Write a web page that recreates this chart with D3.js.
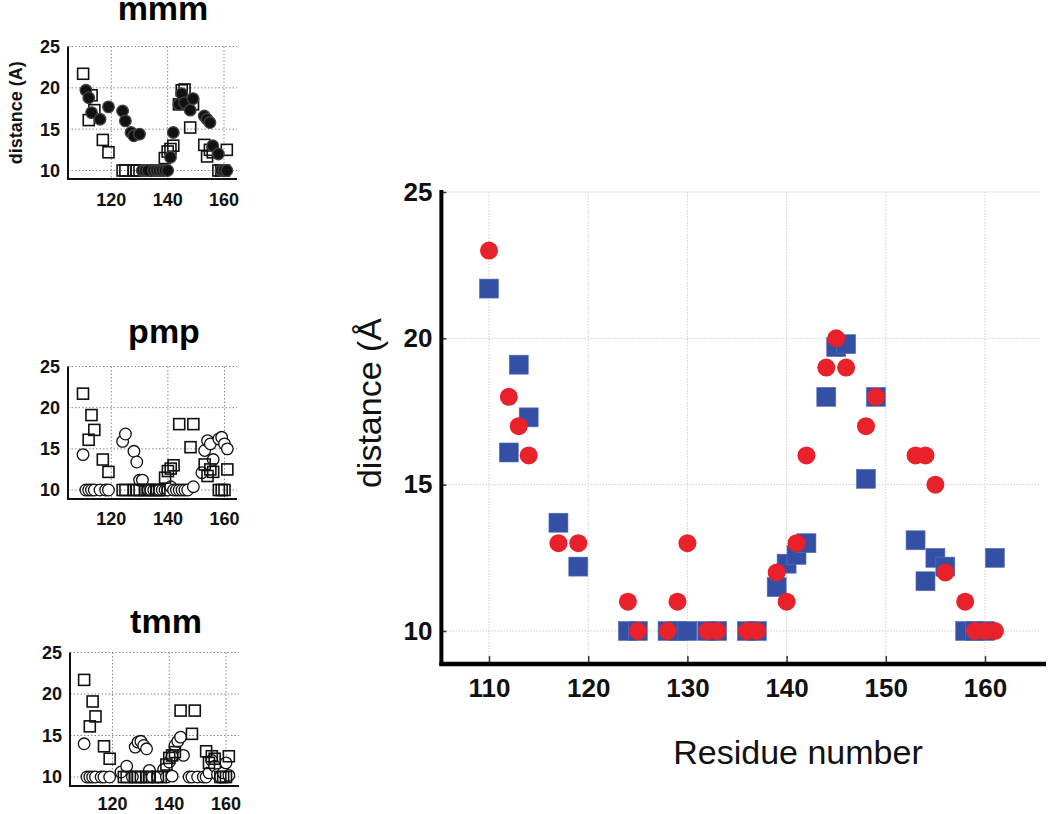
<!DOCTYPE html>
<html><head><meta charset="utf-8">
<script src="https://cdn.jsdelivr.net/npm/d3@7"></script>
<style>body{margin:0;background:#fff}svg{display:block}text{font-family:"Liberation Sans",Arial,Helvetica,sans-serif}</style>
</head><body>
<svg id="c" width="1050" height="814"></svg>
<script>
// ---------- data ----------
const yTicks = [10, 15, 20, 25];
const mainXTicks = [110, 120, 130, 140, 150, 160];
const smallXTicks = [120, 140, 160];

// main chart: blue squares
const mainSqX = [110,112,113,114,117,119,124,125,128,129,130,132,133,136,137,139,140,141,142,144,145,146,148,149,153,154,155,156,158,159,160,161];
const mainSqY = [21.7,16.1,19.1,17.3,13.7,12.2,10,10,10,10,10,10,10,10,10,11.5,12.3,12.6,13.0,18,19.7,19.8,15.2,18,13.1,11.7,12.5,12.2,10,10,10,12.5];
// main chart: red circles
const mainCiX = [110,112,113,114,117,119,124,125,128,129,130,132,133,136,137,139,140,141,142,144,145,146,148,149,153,154,155,156,158,159,160,161];
const mainCiY = [23,18,17,16,13,13,11,10,10,11,13,10,10,10,10,12,11,13,16,19,20,19,17,18,16,16,15,12,11,10,10,10];

// small panel "mmm"
const mmmSqX = mainSqX;
const mmmSqY = mainSqY;
const mmmCiX = [111,112,113,116,119,124,125,127,128,130,131,132,133,135,136,137,138,139,140,141,142,144,145,146,148,149,153,154,155,156,158,159,160,161];
const mmmCiY = [19.7,18.8,17.0,16.2,17.7,17.2,16.0,14.6,14.2,14.4,10,10,10,10,10,10,10,10,10,11.6,14.6,18.0,19.3,18.2,17.3,18.7,16.6,16.2,15.8,13.0,12.0,10,10,10];

// small panel "pmp"
const pmpSqX = [110,112,113,114,117,119,124,125,128,129,130,132,133,136,137,139,140,141,142,144,148,149,153,154,155,156,158,159,160,161];
const pmpSqY = [21.7,16.1,19.1,17.3,13.7,12.2,10,10,10,10,10,10,10,10,10,11.5,12.3,12.6,13.0,18,15.2,18,13.1,11.7,12.5,12.2,10,10,10,12.5];
const pmpCiX = [110,111,112,113,114,116,118,119,124,125,128,129,130,131,133,134,135,136,137,138,139,140,141,142,143,144,145,146,147,149,152,153,154,155,156,158,159,160,161];
const pmpCiY = [14.3,10,10,10,10,10,10,10,15.9,16.8,14.7,13.4,11.2,11.2,10,10,10,10,10,10,10,10,10.4,10,10,10,10,10,10,10.4,12.1,14.8,16.0,15.6,13.7,16.2,16.4,15.6,15.0];

// small panel "tmm"
const tmmSqX = pmpSqX;
const tmmSqY = pmpSqY;
const tmmCiX = [110,111,112,113,114,116,117,119,123,125,127,128,129,130,131,132,133,134,136,138,139,140,141,141,142,143,144,145,147,148,150,152,153,154,155,156,157,158,159,160,161];
const tmmCiY = [14.0,10,10,10,10,10,10,10,10.6,11.3,10,13.6,14.2,14.3,13.8,13.4,10.8,10,10,10.9,10,11.8,12.5,10.1,13.8,14.3,14.8,12.6,10,10,10,10,10,10.5,12.0,11.3,10.3,10,10.5,11.7,10.2];

const panels = [
  {title:"mmm", sqX:mmmSqX, sqY:mmmSqY, ciX:mmmCiX, ciY:mmmCiY, filled:true, ylabel:"distance (A)"},
  {title:"pmp", sqX:pmpSqX, sqY:pmpSqY, ciX:pmpCiX, ciY:pmpCiY, filled:false, ylabel:null},
  {title:"tmm", sqX:tmmSqX, sqY:tmmSqY, ciX:tmmCiX, ciY:tmmCiY, filled:false, ylabel:null}
];

// ---------- layout ----------
const layouts = [
  {left:68, right:237, x120:111.3, x160:224, y25:46.5, y10:170.5, bottom:179, titleX:163, titleY:20, xlabY:206},
  {left:68, right:237, x120:111.3, x160:224.5, y25:366.5, y10:490, bottom:499, titleX:164, titleY:343, xlabY:525},
  {left:70, right:239, x120:112.5, x160:226, y25:652.5, y10:777, bottom:786, titleX:166, titleY:633, xlabY:810}
];

const svg = d3.select("#c");

panels.forEach((p, i) => {
  const L = layouts[i];
  const x = d3.scaleLinear().domain([120,160]).range([L.x120, L.x160]);
  const y = d3.scaleLinear().domain([10,25]).range([L.y10, L.y25]);
  const g = svg.append("g");
  // grid
  g.selectAll(".hg").data(yTicks).join("line")
    .attr("x1", L.left).attr("x2", L.right).attr("y1", d=>y(d)).attr("y2", d=>y(d))
    .attr("stroke", "#8a8a8a").attr("stroke-width", 1).attr("stroke-dasharray", "1.5,2");
  g.selectAll(".vg").data(smallXTicks).join("line")
    .attr("x1", d=>x(d)).attr("x2", d=>x(d)).attr("y1", L.y25).attr("y2", L.bottom)
    .attr("stroke", "#8a8a8a").attr("stroke-width", 1).attr("stroke-dasharray", "1.5,2");
  // axes lines
  g.append("line").attr("x1", L.left).attr("x2", L.left).attr("y1", L.y25).attr("y2", L.bottom+1)
    .attr("stroke", "#111").attr("stroke-width", 2);
  g.append("line").attr("x1", L.left-1).attr("x2", L.right).attr("y1", L.bottom).attr("y2", L.bottom)
    .attr("stroke", "#111").attr("stroke-width", 2);
  // tick labels
  g.selectAll(".yl").data(yTicks).join("text")
    .attr("x", L.left-8).attr("y", d=>y(d)).attr("dy", "0.36em").attr("text-anchor", "end")
    .attr("font-size", 18).attr("font-weight", "bold").attr("fill", "#111").text(d=>d);
  g.selectAll(".xl").data(smallXTicks).join("text")
    .attr("x", d=>x(d)).attr("y", L.xlabY).attr("text-anchor", "middle")
    .attr("font-size", 18).attr("font-weight", "bold").attr("fill", "#111").text(d=>d);
  // title
  g.append("text").attr("x", L.titleX).attr("y", L.titleY).attr("text-anchor", "middle")
    .attr("font-size", 34).attr("font-weight", "bold").attr("fill", "#000").text(p.title);
  if (p.ylabel) {
    g.append("text").attr("transform", `translate(22,${(L.y25+L.bottom)/2}) rotate(-90)`)
      .attr("text-anchor", "middle").attr("font-size", 18).attr("font-weight", "bold")
      .attr("fill", "#111").text(p.ylabel);
  }
  const sq = 11, r = 5.8;
  const circ = p.ciX.map((v,k)=>({x:v, y:p.ciY[k]}));
  const sqs = p.sqX.map((v,k)=>({x:v, y:p.sqY[k]}));
  const drawSq = () => g.selectAll(null).data(sqs).join("rect")
    .attr("x", d=>x(d.x)-sq/2).attr("y", d=>y(d.y)-sq/2).attr("width", sq).attr("height", sq)
    .attr("fill", "none").attr("stroke", "#111").attr("stroke-width", 1.6);
  const drawCi = () => g.selectAll(null).data(circ).join("circle")
    .attr("cx", d=>x(d.x)).attr("cy", d=>y(d.y)).attr("r", r)
    .attr("fill", p.filled ? "#111" : "#fff").attr("stroke", p.filled ? "#444" : "#111").attr("stroke-width", 1.3);
  if (p.filled) { drawSq(); drawCi(); } else { drawCi(); drawSq(); }
});

// ---------- main chart ----------
const X = d3.scaleLinear().domain([110,160]).range([489,985]);
const Y = d3.scaleLinear().domain([10,25]).range([631,192]);
const axisY = Y(8.87), axisX = X(105.2);
const m = svg.append("g");

// grid
m.selectAll(".hg").data(yTicks).join("line")
  .attr("x1", axisX+2).attr("x2", 1040).attr("y1", d=>Y(d)).attr("y2", d=>Y(d))
  .attr("stroke", "#cfcfcf").attr("stroke-width", 1).attr("stroke-dasharray", "1.5,1.5");
m.selectAll(".vg").data(mainXTicks).join("line")
  .attr("x1", d=>X(d)).attr("x2", d=>X(d)).attr("y1", Y(25)).attr("y2", axisY-3)
  .attr("stroke", "#cfcfcf").attr("stroke-width", 1).attr("stroke-dasharray", "1.5,1.5");

// axes with d3 axis generators
const yAxis = m.append("g").attr("transform", `translate(${axisX},0)`)
  .call(d3.axisLeft(Y).tickValues(yTicks).tickSizeInner(-5).tickSizeOuter(0).tickPadding(9));
const xAxis = m.append("g").attr("transform", `translate(0,${axisY})`)
  .call(d3.axisBottom(X).tickValues(mainXTicks).tickSizeInner(-8).tickSizeOuter(0).tickPadding(14));
[yAxis, xAxis].forEach(a => {
  a.select(".domain").remove();
  a.selectAll(".tick line").attr("stroke", "#333").attr("stroke-width", 1.5);
  a.selectAll(".tick text").attr("font-size", 26).attr("font-weight", "bold").attr("fill", "#111")
    .attr("font-family", '"Liberation Sans",Arial,Helvetica,sans-serif');
});
m.append("line").attr("x1", axisX).attr("x2", axisX).attr("y1", Y(25)-2).attr("y2", axisY+2)
  .attr("stroke", "#000").attr("stroke-width", 4);
m.append("line").attr("x1", axisX-2).attr("x2", 1046).attr("y1", axisY).attr("y2", axisY)
  .attr("stroke", "#000").attr("stroke-width", 4.5);

// labels
m.append("text").attr("transform", `translate(381,403) rotate(-90)`).attr("text-anchor", "middle")
  .attr("font-size", 34).attr("fill", "#111").text("distance (Å");
m.append("text").attr("x", 798).attr("y", 764).attr("text-anchor", "middle")
  .attr("font-size", 34).attr("fill", "#111").text("Residue number");

// marks
const S = 19, R = 9;
m.selectAll(".sq").data(mainSqX.map((v,k)=>({x:v, y:mainSqY[k]}))).join("rect")
  .attr("x", d=>X(d.x)-S/2).attr("y", d=>Y(d.y)-S/2).attr("width", S).attr("height", S)
  .attr("fill", "#3450a5").attr("stroke", "#5a6fb8").attr("stroke-width", 0.6);
m.selectAll(".ci").data(mainCiX.map((v,k)=>({x:v, y:mainCiY[k]}))).join("circle")
  .attr("cx", d=>X(d.x)).attr("cy", d=>Y(d.y)).attr("r", R)
  .attr("fill", "#e8212a");
</script>
</body></html>
